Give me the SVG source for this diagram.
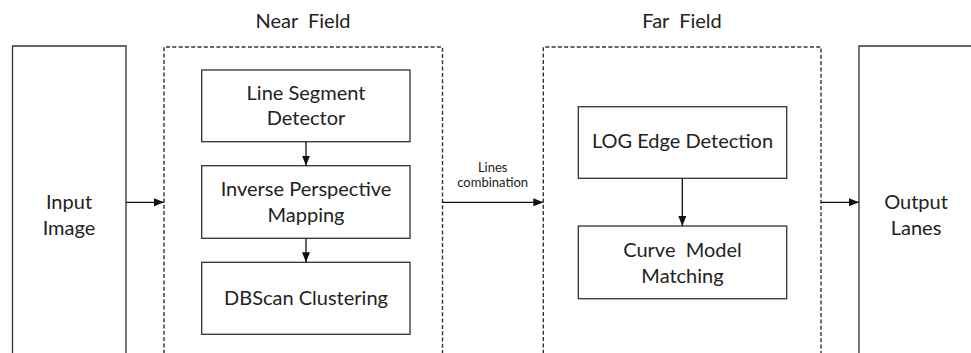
<svg xmlns="http://www.w3.org/2000/svg" width="971" height="353" viewBox="0 0 971 353">
  <style>
    text { font-family: Lato, "Open Sans", "Liberation Sans", sans-serif; fill: #222; text-anchor: middle; }
    .lbl { font-size: 20px; }
    .small { font-size: 13px; }
    .box { fill: #fff; stroke: #333; stroke-width: 1.3; }
    .field { fill: none; stroke: #333; stroke-width: 1.4; stroke-dasharray: 4 2.3; }
    .edge { fill: none; stroke: #111; stroke-width: 1.3; marker-end: url(#arrow); }
  </style>
  <defs>
    <marker id="arrow" viewBox="0 0 10 8" refX="10" refY="4" markerWidth="10" markerHeight="8" markerUnits="userSpaceOnUse" orient="auto">
      <path d="M0,0 L10,4 L0,8 z" fill="#111"/>
    </marker>
  </defs>

  <g id="input-image">
    <path class="box" d="M12.5,360 V46 H126 V360"/>
    <text class="lbl" x="69" y="209">Input</text>
    <text class="lbl" x="69" y="235">Image</text>
  </g>

  <g id="near-field">
    <path class="field" d="M164,360 V47 H442.5 V360"/>
    <text class="lbl" x="303" y="28" xml:space="preserve">Near  Field</text>
  </g>

  <g id="line-segment-detector">
    <rect class="box" x="201.7" y="70" width="208.3" height="71.7"/>
    <text class="lbl" x="306" y="100">Line Segment</text>
    <text class="lbl" x="306" y="125">Detector</text>
  </g>

  <g id="inverse-perspective-mapping">
    <rect class="box" x="201.7" y="165.7" width="208.3" height="72.6"/>
    <text class="lbl" x="306" y="196">Inverse Perspective</text>
    <text class="lbl" x="306" y="221.5">Mapping</text>
  </g>

  <g id="dbscan-clustering">
    <rect class="box" x="201.7" y="262.3" width="208.3" height="72"/>
    <text class="lbl" x="306" y="305">DBScan Clustering</text>
  </g>

  <g id="far-field">
    <path class="field" d="M543.3,360 V47 H821 V360"/>
    <text class="lbl" x="682" y="28" xml:space="preserve">Far  Field</text>
  </g>

  <g id="log-edge-detection">
    <rect class="box" x="578.3" y="106.7" width="208.4" height="71.6"/>
    <text class="lbl" x="682.5" y="148">LOG Edge Detection</text>
  </g>

  <g id="curve-model-matching">
    <rect class="box" x="578.3" y="226" width="208.4" height="72.7"/>
    <text class="lbl" x="682.5" y="257.3" xml:space="preserve">Curve  Model</text>
    <text class="lbl" x="682.5" y="282.7">Matching</text>
  </g>

  <g id="output-lanes">
    <path class="box" d="M980,46 H859 V360"/>
    <text class="lbl" x="916" y="209">Output</text>
    <text class="lbl" x="916" y="235">Lanes</text>
  </g>

  <g id="connectors">
    <line class="edge" x1="126" y1="202.3" x2="164" y2="202.3"/>
    <line class="edge" x1="306" y1="141.7" x2="306" y2="165.7"/>
    <line class="edge" x1="306" y1="238.3" x2="306" y2="262.3"/>
    <line class="edge" x1="442.5" y1="202.3" x2="543.3" y2="202.3"/>
    <text class="small" x="492.7" y="171.7">Lines</text>
    <text class="small" x="492.7" y="187.3">combination</text>
    <line class="edge" x1="682.3" y1="178.3" x2="682.3" y2="226"/>
    <line class="edge" x1="821" y1="202.3" x2="859" y2="202.3"/>
  </g>
</svg>
